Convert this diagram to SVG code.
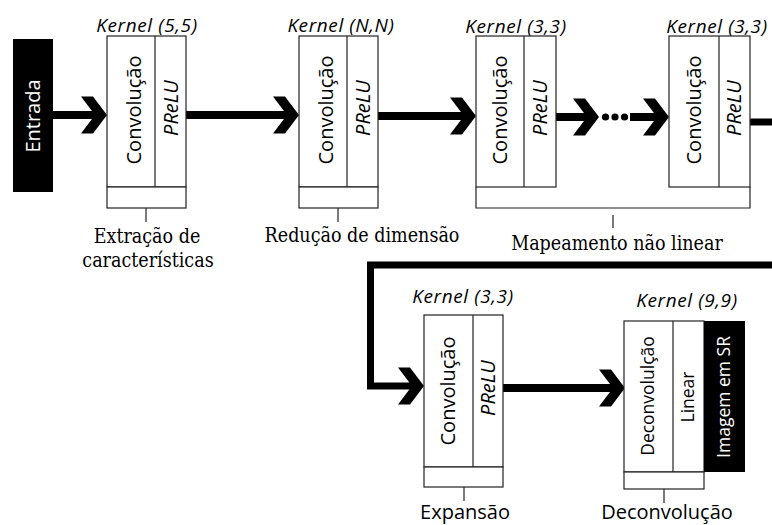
<svg xmlns="http://www.w3.org/2000/svg" width="772" height="525" viewBox="0 0 772 525">
  <style>
    .box { fill: #fff; stroke: #222; stroke-width: 1.2; }
    .thin { fill: none; stroke: #222; stroke-width: 1.2; }
    .blk { fill: #000; }
    .wire { fill: none; stroke: #000; stroke-width: 8; }
    .wire7 { fill: none; stroke: #000; stroke-width: 7; }
    .lbl { font-family: "Open Sans", "DejaVu Sans", sans-serif; font-size: 20px; fill: #000; text-anchor: middle; }
    .it { font-style: italic; }
    .ker { font-family: "Open Sans", "DejaVu Sans", sans-serif; font-style: italic; font-size: 19px; letter-spacing: 0.6px; fill: #000; text-anchor: middle; }
    .sm { font-size: 17.5px; }
    .wt { fill: #fff; }
    .cap { font-family: "DejaVu Serif Condensed", "DejaVu Serif", serif; font-stretch: condensed; font-size: 19.5px; fill: #000; text-anchor: middle; }
  </style>
  <defs>
    <!-- chevron arrowhead, tip at origin -->
    <path id="chev" d="M-26,-18.5 H-14 L0,0 L-14,18.5 H-26 L-12,0 Z" fill="#000"/>
  </defs>

  <g id="connectors">
    <line class="wire" x1="53" y1="115" x2="100" y2="115"/>
    <use href="#chev" x="107" y="115"/>
    <line class="wire" x1="186" y1="115" x2="292" y2="115"/>
    <use href="#chev" x="299" y="115"/>
    <line class="wire" x1="378" y1="116" x2="469" y2="116"/>
    <use href="#chev" x="476" y="116"/>
    <line class="wire" x1="556" y1="117" x2="592" y2="117"/>
    <use href="#chev" x="599" y="117"/>
    <circle cx="605.5" cy="117" r="3.6"/>
    <circle cx="615" cy="117" r="3.6"/>
    <circle cx="624.5" cy="117" r="3.6"/>
    <line class="wire" x1="630" y1="117" x2="662" y2="117"/>
    <use href="#chev" x="669" y="117"/>
    <line class="wire7" x1="750" y1="122" x2="772" y2="122"/>
    <path class="wire7" d="M772,265 H370.5 V386 H417"/>
    <use href="#chev" x="424" y="386"/>
    <line class="wire" x1="503" y1="388" x2="618" y2="388"/>
    <use href="#chev" x="625" y="388"/>
  </g>

  <g id="entrada">
    <rect class="blk" x="13" y="39" width="40" height="153"/>
    <text class="lbl wt" transform="translate(40,116) rotate(-90)">Entrada</text>
  </g>

  <g id="extracao">
    <text class="ker" x="147" y="32">Kernel (5,5)</text>
    <rect class="box" x="107" y="36" width="79" height="151"/>
    <line class="thin" x1="155" y1="36" x2="155" y2="187"/>
    <rect class="box" x="107" y="187" width="79" height="21"/>
    <line class="thin" x1="146" y1="208" x2="146" y2="222"/>
    <text class="lbl" transform="translate(141,110) rotate(-90)">Convolução</text>
    <text class="lbl it" transform="translate(178,108) rotate(-90)">PReLU</text>
    <text class="cap" x="147" y="243">Extração de</text>
    <text class="cap" x="148" y="267">características</text>
  </g>

  <g id="reducao">
    <text class="ker" x="341" y="32">Kernel (N,N)</text>
    <rect class="box" x="299" y="36" width="79" height="151"/>
    <line class="thin" x1="347" y1="36" x2="347" y2="187"/>
    <rect class="box" x="299" y="187" width="79" height="21"/>
    <line class="thin" x1="338" y1="208" x2="338" y2="222"/>
    <text class="lbl" transform="translate(333,110) rotate(-90)">Convolução</text>
    <text class="lbl it" transform="translate(370,108) rotate(-90)">PReLU</text>
    <text class="cap" x="362" y="242">Redução de dimensão</text>
  </g>

  <g id="mapeamento1">
    <text class="ker" x="516" y="33">Kernel (3,3)</text>
    <rect class="box" x="476" y="36" width="80" height="151"/>
    <line class="thin" x1="524" y1="36" x2="524" y2="187"/>
    <text class="lbl" transform="translate(507,110) rotate(-90)">Convolução</text>
    <text class="lbl it" transform="translate(547,108) rotate(-90)">PReLU</text>
  </g>

  <g id="mapeamento2">
    <text class="ker" x="717" y="33">Kernel (3,3)</text>
    <rect class="box" x="669" y="36" width="81" height="151"/>
    <line class="thin" x1="719" y1="36" x2="719" y2="187"/>
    <text class="lbl" transform="translate(701,110) rotate(-90)">Convolução</text>
    <text class="lbl it" transform="translate(741,108) rotate(-90)">PReLU</text>
  </g>

  <g id="mapeamento">
    <path class="thin" d="M476,187 V208 H750 V187"/>
    <line class="thin" x1="613" y1="215" x2="613" y2="228"/>
    <text class="cap" x="617" y="250">Mapeamento não linear</text>
  </g>

  <g id="expansao">
    <text class="ker" x="463" y="303">Kernel (3,3)</text>
    <rect class="box" x="424" y="315" width="79" height="152"/>
    <line class="thin" x1="473" y1="315" x2="473" y2="467"/>
    <rect class="box" x="424" y="467" width="79" height="20"/>
    <line class="thin" x1="464" y1="487" x2="464" y2="501"/>
    <text class="lbl" transform="translate(455,391) rotate(-90)">Convolução</text>
    <text class="lbl it" transform="translate(495,388) rotate(-90)">PReLU</text>
    <text class="lbl" x="465" y="519">Expansão</text>
  </g>

  <g id="deconvolucao">
    <text class="ker" x="687" y="307">Kernel (9,9)</text>
    <rect class="box" x="624" y="321" width="80" height="151"/>
    <line class="thin" x1="673" y1="321" x2="673" y2="472"/>
    <rect class="blk" x="704" y="321" width="41" height="151"/>
    <rect class="box" x="624" y="472" width="80" height="17"/>
    <line class="thin" x1="664" y1="489" x2="664" y2="503"/>
    <text class="lbl sm" transform="translate(654,396) rotate(-90)">Deconvolulção</text>
    <text class="lbl sm" transform="translate(694,397) rotate(-90)">Linear</text>
    <text class="lbl sm wt" transform="translate(730,397) rotate(-90)">Imagem em SR</text>
    <text class="lbl" x="667" y="519">Deconvolução</text>
  </g>
</svg>
